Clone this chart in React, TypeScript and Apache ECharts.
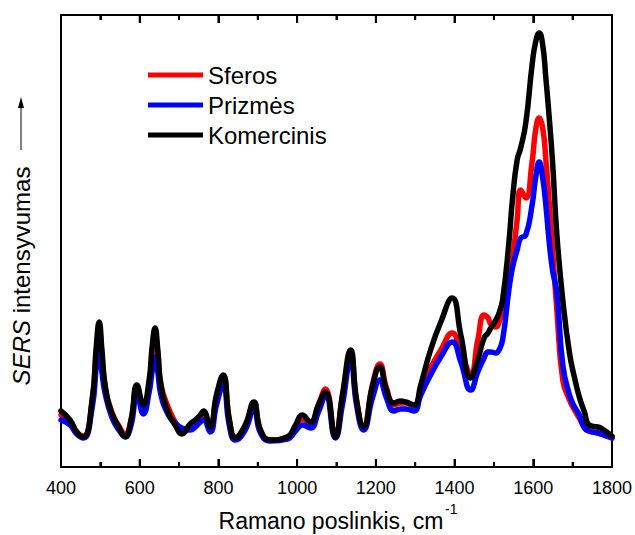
import React, { useEffect, useRef } from "react";
import * as echarts from "echarts";

// Raman shift (cm^-1)
const wavenumbers = [
  400, 423, 440, 457, 479, 490, 497, 504, 512, 529, 547, 563, 578, 593, 609, 624, 632, 639, 646, 654,
  673, 690, 707, 728, 741, 754, 762, 779, 795, 812, 828, 843, 868, 890, 907, 932, 975, 996, 1013, 1034,
  1054, 1072, 1097, 1115, 1136, 1151, 1169, 1192, 1210, 1227, 1246, 1262, 1276, 1297, 1314, 1339, 1365, 1394, 1416, 1441,
  1459, 1475, 1485, 1492, 1505, 1513, 1522, 1538, 1547, 1559, 1568, 1581, 1597, 1606, 1615, 1624, 1632, 1640, 1649, 1660,
  1675, 1692, 1705, 1717, 1730, 1742, 1764, 1772, 1800,
];

// SERS intensity (arbitrary units)
const sferos = [
  52, 46, 35, 31, 65, 117, 137, 112, 81, 55, 41, 33, 47, 79, 59, 82, 117, 131, 113, 82,
  59, 45, 35, 39, 45, 50, 54, 39, 69, 89, 46, 30, 41, 64, 36, 27, 30, 40, 48, 43,
  62, 78, 31, 70, 113, 66, 40, 83, 103, 79, 62, 64, 64, 61, 77, 99, 117, 134, 115, 94,
  127, 152, 149, 143, 140, 145, 157, 182, 207, 247, 277, 269, 305, 337, 349, 339, 307, 267, 217, 157,
  87, 67, 57, 49, 40, 36, 34, 33, 29,
];

const prizmes = [
  47, 42, 33, 29, 59, 102, 122, 95, 74, 50, 37, 31, 42, 73, 53, 75, 97, 110, 95, 72,
  52, 44, 39, 37, 40, 45, 47, 35, 62, 82, 41, 27, 37, 58, 34, 26, 28, 36, 42, 39,
  55, 71, 29, 62, 107, 62, 37, 70, 87, 69, 56, 58, 58, 56, 72, 92, 110, 125, 105, 77,
  95, 109, 115, 115, 114, 117, 127, 177, 199, 217, 229, 232, 262, 289, 305, 289, 262, 227, 197, 174,
  102, 72, 60, 52, 39, 36, 34, 33, 29,
];

const komercinis = [
  56, 47, 35, 30, 67, 122, 145, 117, 82, 54, 40, 30, 47, 82, 62, 87, 122, 139, 117, 82,
  54, 42, 33, 43, 47, 52, 56, 40, 72, 92, 47, 29, 42, 65, 37, 27, 30, 42, 52, 45,
  62, 75, 30, 72, 117, 67, 40, 82, 100, 77, 64, 66, 65, 62, 82, 117, 145, 169, 132, 89,
  107, 129, 134, 139, 147, 154, 167, 224, 267, 307, 319, 344, 402, 425, 434, 422, 389, 352, 305, 232,
  167, 114, 89, 70, 55, 42, 40, 39, 31,
];

const seriesNames = ["Sferos", "Prizmės", "Komercinis"];
const seriesColors = ["#ff0000", "#0000ff", "#000000"];
const xTicks = { min: 400, max: 1800, interval: 200 };
// positions of the major (every 200) and minor (every 100) tick marks on the frame
const tickPositions = [400, 500, 600, 700, 800, 900, 1000, 1100, 1200, 1300, 1400, 1500, 1600, 1700, 1800];
const yRange = { min: 0, max: 452 };

const FONT = "Liberation Sans, Arial, sans-serif";

function makeXAxis(position: string, showLabels: boolean) {
  return {
    gridIndex: 0,
    type: "value",
    position,
    min: xTicks.min,
    max: xTicks.max,
    interval: xTicks.interval,
    axisLine: { show: true, onZero: false, lineStyle: { color: "#000", width: 2 } },
    axisTick: { show: true, inside: true, length: 8, lineStyle: { color: "#000", width: 2 } },
    minorTick: { show: true, splitNumber: 2, length: 5, lineStyle: { color: "#000", width: 2 } },
    axisLabel: {
      show: showLabels,
      fontSize: 18,
      color: "#000",
      fontFamily: FONT,
      margin: 12,
      formatter: (v: number) => String(v),
    },
    splitLine: { show: false },
  };
}

function makeYAxis(position: string) {
  return {
    gridIndex: 0,
    type: "value",
    position,
    min: yRange.min,
    max: yRange.max,
    axisLine: { show: true, onZero: false, lineStyle: { color: "#000", width: 2 } },
    axisTick: { show: false },
    axisLabel: { show: false },
    splitLine: { show: false },
  };
}

export default function App() {
  const ref = useRef<HTMLDivElement>(null);

  useEffect(() => {
    if (!ref.current) return;
    const chart = echarts.init(ref.current, null, { renderer: "svg" });
    const allValues = [sferos, prizmes, komercinis];

    chart.setOption({
      animation: false,
      grid: [{ left: 61, top: 15, right: 23, height: 452 }],
      legend: {
        orient: "vertical",
        left: 143,
        top: 58,
        itemWidth: 55,
        itemHeight: 5,
        itemGap: 6,
        icon: "rect",
        data: seriesNames,
        textStyle: { fontSize: 24, color: "#000", fontFamily: FONT },
      },
      xAxis: [makeXAxis("bottom", true), makeXAxis("top", false)],
      yAxis: [makeYAxis("left"), makeYAxis("right")],
      series: [
        ...seriesNames.map((name, i) => ({
          name,
          type: "line",
          xAxisIndex: 0,
          yAxisIndex: 0,
          showSymbol: false,
          smooth: 0.5,
          color: seriesColors[i],
          lineStyle: { color: seriesColors[i], width: 5.5, join: "round", cap: "round" },
          data: wavenumbers.map((w, j) => [w, allValues[i][j]]),
        })),
        {
          // inward tick marks on the bottom and top frame lines
          type: "custom",
          xAxisIndex: 0,
          yAxisIndex: 0,
          silent: true,
          clip: false,
          z: 5,
          data: tickPositions.map((v) => [v]),
          renderItem: (params: any, api: any) => {
            const v = api.value(0);
            const len = (v - xTicks.min) % xTicks.interval === 0 ? 8 : 5;
            const bottom = api.coord([v, yRange.min]);
            const top = api.coord([v, yRange.max]);
            const style = { stroke: "#000", lineWidth: 2 };
            return {
              type: "group",
              children: [
                { type: "line", shape: { x1: bottom[0], y1: bottom[1], x2: bottom[0], y2: bottom[1] - len }, style },
                { type: "line", shape: { x1: top[0], y1: top[1], x2: top[0], y2: top[1] + len }, style },
              ],
            };
          },
        },
      ],
      graphic: [
        {
          type: "text",
          x: 21,
          y: 276,
          rotation: Math.PI / 2,
          style: {
            text: "{i|SERS} intensyvumas",
            fontSize: 24,
            fontFamily: FONT,
            fill: "#000",
            align: "center",
            verticalAlign: "middle",
            rich: { i: { fontStyle: "italic", fontSize: 24, fontFamily: FONT, fill: "#000" } },
          },
        },
        {
          type: "line",
          shape: { x1: 21, y1: 150, x2: 21, y2: 106 },
          style: { stroke: "#000", lineWidth: 1 },
        },
        {
          type: "polygon",
          shape: { points: [[21, 97], [18, 108], [24, 108]] },
          style: { fill: "#000" },
        },
        {
          type: "text",
          x: 331,
          y: 521,
          style: {
            text: "Ramano poslinkis, cm",
            fontSize: 23,
            fontFamily: FONT,
            fill: "#000",
            align: "center",
            verticalAlign: "middle",
          },
        },
        {
          type: "text",
          x: 445,
          y: 509,
          style: {
            text: "-1",
            fontSize: 14,
            fontFamily: FONT,
            fill: "#000",
            align: "left",
            verticalAlign: "middle",
          },
        },
      ],
    });

    return () => chart.dispose();
  }, []);

  return (
    <div
      ref={ref}
      style={{ position: "fixed", left: 0, top: 0, width: 635, height: 535, background: "#fff" }}
    />
  );
}
